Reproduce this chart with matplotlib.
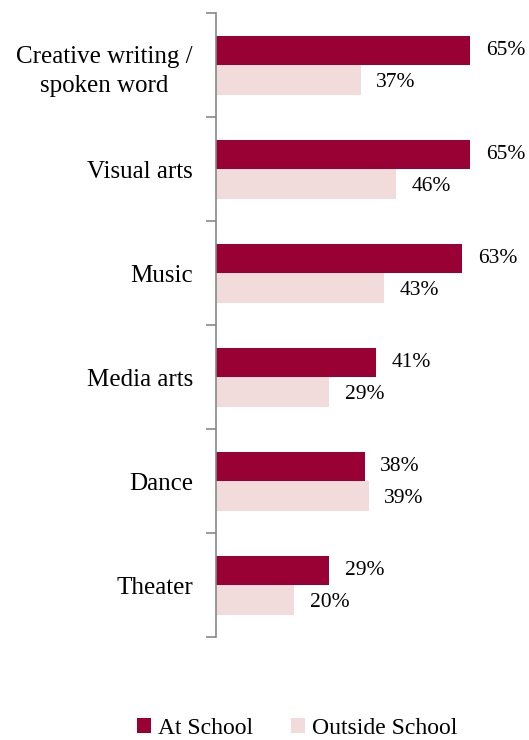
import matplotlib
matplotlib.use("Agg")
import matplotlib.pyplot as plt
import numpy as np

categories = ["Creative writing /\nspoken word", "Visual arts", "Music",
              "Media arts", "Dance", "Theater"]
at_school = [65, 65, 63, 41, 38, 29]
outside_school = [37, 46, 43, 29, 39, 20]

maroon = "#990033"
pink = "#F2DCDB"

plt.rcParams["font.family"] = ["Liberation Serif", "DejaVu Serif"]

fig = plt.figure(figsize=(5.29, 7.40), dpi=100)
ax = fig.add_axes([0.408, 0.139, 0.592, 0.843])

n = len(categories)
y = np.arange(n)
h = 0.285
ax.barh(y - h / 2, at_school, height=h, color=maroon, label="At School")
ax.barh(y + h / 2, outside_school, height=h, color=pink, label="Outside School")

# value labels
for yi, v in zip(y, at_school):
    ax.text(v + 4.0, yi - h / 2, f"{v}%", va="center", ha="left", fontsize=15.5)
for yi, v in zip(y, outside_school):
    ax.text(v + 4.0, yi + h / 2 + 0.02, f"{v}%", va="center", ha="left", fontsize=15.5)

ax.set_ylim(n - 0.5, -0.5)
ax.set_xlim(0, 80)
ax.set_yticks(y)
ax.set_yticklabels(categories, fontsize=18, linespacing=1.4, ha="right",
                   multialignment="center")
ax.set_yticks(np.arange(n + 1) - 0.5, minor=True)
ax.tick_params(axis="y", which="major", length=0, pad=16.5)
ax.tick_params(axis="y", which="minor", length=7, color="#888888", width=1.2)
ax.set_xticks([])
for s in ["top", "right", "bottom"]:
    ax.spines[s].set_visible(False)
ax.spines["left"].set_color("#888888")
ax.spines["left"].set_linewidth(1.2)

fig.legend(loc="center", bbox_to_anchor=(0.562, 0.016), ncol=2, frameon=False,
           fontsize=17, handlelength=0.6, handleheight=0.6, handletextpad=0.3,
           columnspacing=1.6)

fig.savefig("out.png", dpi=100)
